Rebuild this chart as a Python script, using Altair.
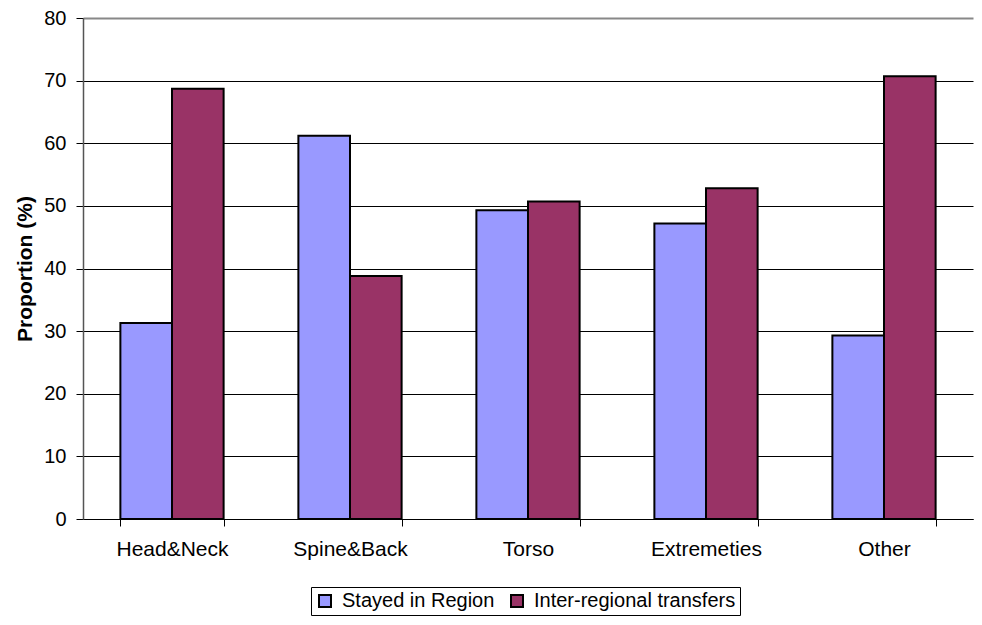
import altair as alt
import pandas as pd

categories = ["Head&Neck", "Spine&Back", "Torso", "Extremeties", "Other"]
series = ["Stayed in Region", "Inter-regional transfers"]
stayed = [31.3, 61.2, 49.3, 47.2, 29.3]
inter = [68.7, 38.8, 50.7, 52.8, 70.7]
colors = ["#9999FF", "#993366"]
y_ticks = [0, 10, 20, 30, 40, 50, 60, 70, 80]

rows = []
for c, s, t in zip(categories, stayed, inter):
    rows.append({"Region": c, "Series": series[0], "Value": s})
    rows.append({"Region": c, "Series": series[1], "Value": t})
df = pd.DataFrame(rows)

FONT = "Liberation Sans"

chart = alt.Chart(df).mark_bar(stroke="black", strokeWidth=2).encode(
    x=alt.X(
        "Region:N",
        sort=categories,
        scale=alt.Scale(paddingInner=0.42, paddingOuter=0.21),
        axis=alt.Axis(
            title=None,
            tickBand="extent",
            labelAngle=0,
            labelFont=FONT,
            labelFontSize=21,
            labelColor="black",
            labelPadding=12,
            tickSize=7,
            tickColor="black",
            domainColor="black",
            domainWidth=1,
            grid=False,
        ),
    ),
    xOffset=alt.XOffset("Series:N", sort=series, scale=alt.Scale(paddingInner=0, paddingOuter=0)),
    y=alt.Y(
        "Value:Q",
        scale=alt.Scale(domain=[0, 80], nice=False),
        axis=alt.Axis(
            values=y_ticks,
            title="Proportion (%)",
            titleFont=FONT,
            titleFontSize=21,
            titleFontWeight="bold",
            titleColor="black",
            titlePadding=8,
            labelFont=FONT,
            labelFontSize=20,
            labelColor="black",
            labelPadding=10,
            tickSize=7,
            tickColor="black",
            domainColor="#555555",
            domainWidth=1.5,
            grid=True,
            gridColor={"condition": {"test": "datum.value == 80", "value": "#888888"}, "value": "black"},
            gridWidth={"condition": {"test": "datum.value == 80", "value": 2}, "value": 1},
        ),
    ),
    color=alt.Color(
        "Series:N",
        sort=series,
        scale=alt.Scale(domain=series, range=colors),
        legend=alt.Legend(
            title=None,
            orient="none",
            legendX=228,
            legendY=569,
            direction="horizontal",
            strokeColor="black",
            fillColor="white",
            padding=4,
            symbolType="square",
            symbolSize=144,
            symbolStrokeColor="black",
            symbolStrokeWidth=2,
            symbolOpacity=1,
            labelFont=FONT,
            labelFontSize=20,
            labelColor="black",
            labelLimit=400,
            columnPadding=12,
            labelOffset=7,
        ),
    ),
).properties(
    width=890,
    height=501,
    autosize="none",
    padding={"left": 75, "top": 10, "right": 1, "bottom": 98},
).configure_view(stroke=None)

chart.save("out.html", embed_options={"renderer": "svg", "actions": False})
